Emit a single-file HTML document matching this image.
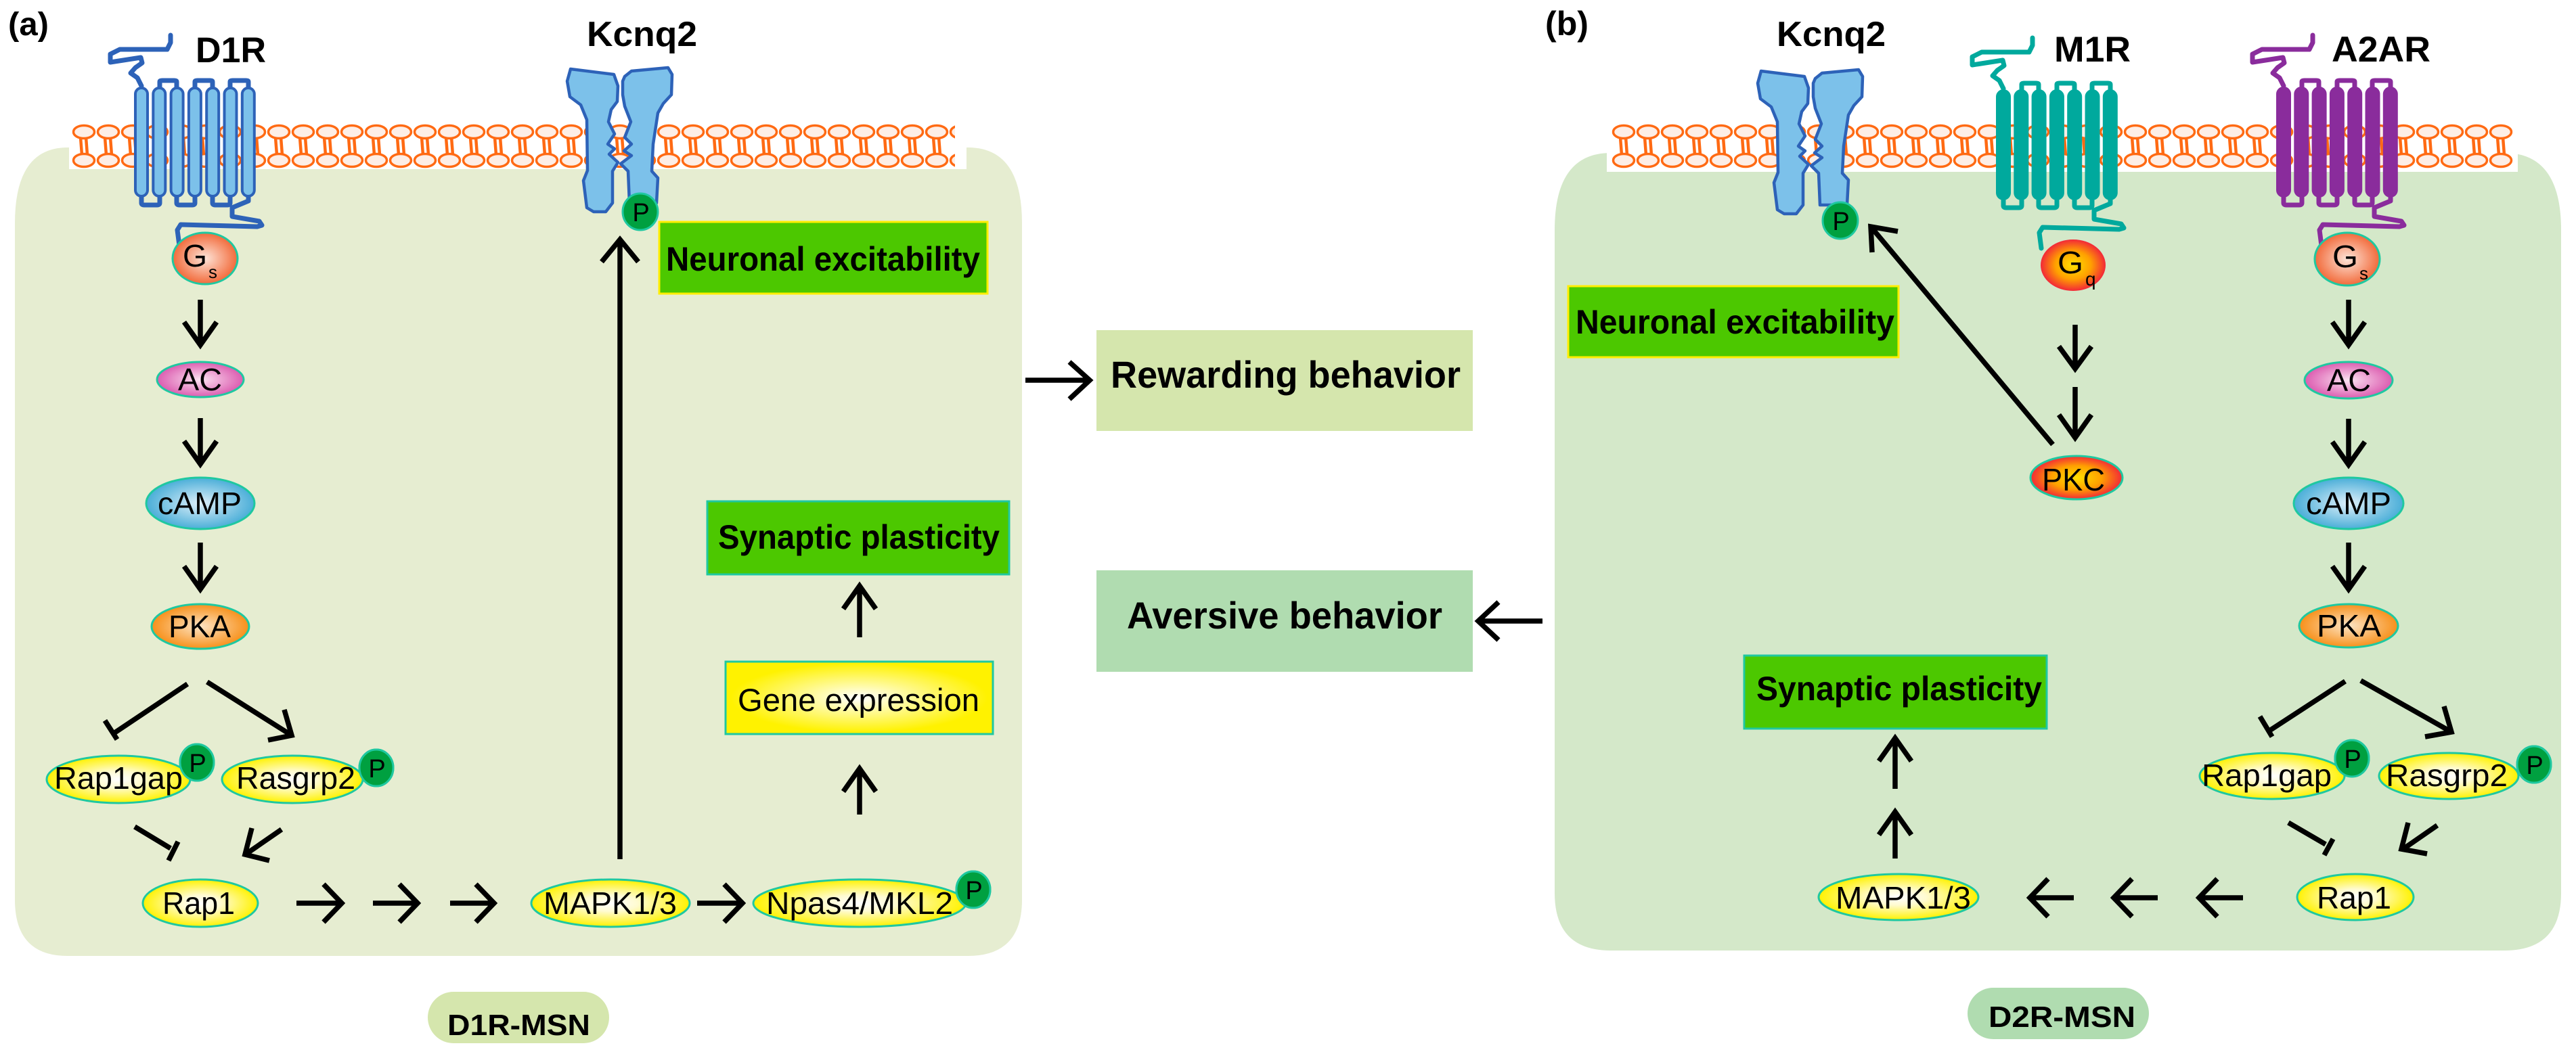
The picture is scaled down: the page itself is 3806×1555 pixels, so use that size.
<!DOCTYPE html>
<html><head><meta charset="utf-8"><style>
html,body{margin:0;padding:0;background:#fff;}
svg{display:block;}
text{font-family:"Liberation Sans",Arial,sans-serif;}
.b{font-weight:bold;}
</style></head><body>
<svg width="3806" height="1555" viewBox="0 0 3806 1555" xmlns="http://www.w3.org/2000/svg">
<defs>
<pattern id="lipL" x="106" y="0" width="36" height="300" patternUnits="userSpaceOnUse">
 <g stroke="#ff6a13" stroke-width="4.5" fill="none">
  <line x1="13" y1="203" x2="15" y2="229"/><line x1="21" y1="203" x2="23" y2="229"/>
 </g>
 <ellipse cx="18" cy="195" rx="15.5" ry="9.5" fill="#fdeee6" stroke="#ff6a13" stroke-width="3.5"/>
 <ellipse cx="18" cy="237" rx="15.5" ry="9.5" fill="#fdeee6" stroke="#ff6a13" stroke-width="3.5"/>
</pattern>
<pattern id="lipR" x="2381" y="0" width="36" height="300" patternUnits="userSpaceOnUse">
 <g stroke="#ff6a13" stroke-width="4.5" fill="none">
  <line x1="13" y1="203" x2="15" y2="229"/><line x1="21" y1="203" x2="23" y2="229"/>
 </g>
 <ellipse cx="18" cy="195" rx="15.5" ry="9.5" fill="#fdeee6" stroke="#ff6a13" stroke-width="3.5"/>
 <ellipse cx="18" cy="237" rx="15.5" ry="9.5" fill="#fdeee6" stroke="#ff6a13" stroke-width="3.5"/>
</pattern>
<radialGradient id="gY"><stop offset="0" stop-color="#ffffff"/><stop offset="0.35" stop-color="#fffbd0"/><stop offset="1" stop-color="#fff200"/></radialGradient>
<radialGradient id="gBox" cx="0.5" cy="0.5" r="0.6"><stop offset="0" stop-color="#ffffff"/><stop offset="0.8" stop-color="#fff200"/></radialGradient>
<radialGradient id="gGs"><stop offset="0" stop-color="#fde4d8"/><stop offset="1" stop-color="#f26a3a"/></radialGradient>
<radialGradient id="gAC"><stop offset="0" stop-color="#fbe4f2"/><stop offset="1" stop-color="#dc5cb0"/></radialGradient>
<radialGradient id="gCA"><stop offset="0" stop-color="#dff0fa"/><stop offset="1" stop-color="#4aaed8"/></radialGradient>
<radialGradient id="gPKA"><stop offset="0" stop-color="#fde4c4"/><stop offset="1" stop-color="#f7901a"/></radialGradient>
<radialGradient id="gPKC"><stop offset="0" stop-color="#ffe000"/><stop offset="0.55" stop-color="#ffa000"/><stop offset="1" stop-color="#f22838"/></radialGradient>
<g id="rec">
 <path d="M0 127 L-6 115 L-16 108 L-9 100 L1 93 L-1 85 L-46 92 L-46 80 L-32 73 L38 73 L43 63 L43 52" fill="none" stroke-width="7" stroke-linecap="round" stroke-linejoin="round"/>
 <path d="M27 132 V121 Q27 119 31 119 H48 Q52 119 52 121 V132 M79 132 V121 Q79 119 83 119 H101 Q105 119 105 121 V132 M131 132 V121 Q131 119 135 119 H154 Q158 119 158 121 V132" fill="none" stroke-width="7"/>
 <path d="M0 288 V300 Q0 303 4 303 H23 Q27 303 27 300 V288 M52 288 V300 Q52 303 56 303 H75 Q79 303 79 300 V288 M105 288 V300 Q105 303 109 303 H127 Q131 303 131 300 V288" fill="none" stroke-width="7"/>
 <path d="M158 288 V297 L134 307 L134 320 L174 327 L178 333 L171 335 L58 332 L53 340 L56 363" fill="none" stroke-width="7" stroke-linecap="round" stroke-linejoin="round"/>
 <rect x="-9" y="130" width="18" height="160" rx="9" stroke-width="4"/>
 <rect x="17.3" y="130" width="18" height="160" rx="9" stroke-width="4"/>
 <rect x="43.6" y="130" width="18" height="160" rx="9" stroke-width="4"/>
 <rect x="69.9" y="130" width="18" height="160" rx="9" stroke-width="4"/>
 <rect x="96.2" y="130" width="18" height="160" rx="9" stroke-width="4"/>
 <rect x="122.5" y="130" width="18" height="160" rx="9" stroke-width="4"/>
 <rect x="148.8" y="130" width="18" height="160" rx="9" stroke-width="4"/>
</g>
<g id="kcnq">
 <path d="M843 102 L907 110 L913 127 L912 150 L903 162 L899 180 L908 198 L898 213 L908 220 L900 228 L913 240 L905 253 L905 300 L895 313 L877 313 L867 307 L862 267 L868 252 L867 177 L858 155 L842 143 L838 120 Z" fill="#7cc1ea" stroke="#2d62b8" stroke-width="4.5" stroke-linejoin="round"/>
 <path d="M923 113 L933 105 L987 100 L993 110 L992 140 L980 153 L972 167 L965 213 L963 253 L972 263 L970 300 L930 300 L928 253 L917 242 L933 230 L922 223 L933 213 L923 203 L932 180 L923 157 L920 140 L920 120 Z" fill="#7cc1ea" stroke="#2d62b8" stroke-width="4.5" stroke-linejoin="round"/>
</g>
</defs>

<!-- cells -->
<path d="M100 218 H1430 Q1510 218 1510 330 V1330 Q1510 1413 1430 1413 H100 Q22 1413 22 1330 V330 Q22 218 100 218 Z" fill="#e6edd1"/>
<path d="M2380 226 H3700 Q3784 226 3784 340 V1320 Q3784 1405 3700 1405 H2380 Q2297 1405 2297 1320 V340 Q2297 226 2380 226 Z" fill="#d4e8c9"/>

<!-- membranes -->
<rect x="102" y="184" width="1326" height="66" fill="#fff"/>
<rect x="106" y="180" width="1305" height="72" fill="url(#lipL)"/>
<rect x="2374" y="184" width="1346" height="70" fill="#fff"/>
<rect x="2381" y="180" width="1332" height="72" fill="url(#lipR)"/>

<!-- receptors -->
<use href="#rec" transform="translate(209,0)" style="fill:#7cc1ea;stroke:#2d62b8"/>
<use href="#rec" transform="translate(2960,4)" style="fill:#00a99d;stroke:#00a99d"/>
<use href="#rec" transform="translate(3374,0)" style="fill:#8a2c9c;stroke:#8a2c9c"/>
<use href="#kcnq"/>
<use href="#kcnq" transform="translate(1759,3)"/>

<!-- labels top -->
<text x="12" y="52" class="b" font-size="48" textLength="60" lengthAdjust="spacingAndGlyphs">(a)</text>
<text x="2283" y="52" class="b" font-size="50" textLength="64" lengthAdjust="spacingAndGlyphs">(b)</text>
<text x="289" y="92" class="b" font-size="53" textLength="104" lengthAdjust="spacingAndGlyphs">D1R</text>
<text x="867" y="68" class="b" font-size="52" textLength="163" lengthAdjust="spacingAndGlyphs">Kcnq2</text>
<text x="2625" y="68" class="b" font-size="52" textLength="161" lengthAdjust="spacingAndGlyphs">Kcnq2</text>
<text x="3035" y="91" class="b" font-size="53" textLength="113" lengthAdjust="spacingAndGlyphs">M1R</text>
<text x="3445" y="91" class="b" font-size="53" textLength="146" lengthAdjust="spacingAndGlyphs">A2AR</text>

<!-- P circles -->
<g fill="#00a040" stroke="#1fc8a0" stroke-width="3">
 <ellipse cx="946" cy="313" rx="26" ry="27"/>
 <ellipse cx="2719" cy="326" rx="26" ry="27"/>
 <ellipse cx="291" cy="1127" rx="25" ry="27"/>
 <ellipse cx="556" cy="1135" rx="25" ry="27"/>
 <ellipse cx="1438" cy="1315" rx="25" ry="27"/>
 <ellipse cx="3475" cy="1121" rx="25" ry="27"/>
 <ellipse cx="3744" cy="1130" rx="25" ry="27"/>
</g>
<g font-size="38" text-anchor="middle">
 <text x="947" y="327">P</text><text x="2720" y="340">P</text>
 <text x="292" y="1141">P</text><text x="557" y="1149">P</text>
 <text x="1439" y="1329">P</text><text x="3476" y="1135">P</text><text x="3745" y="1144">P</text>
</g>

<!-- nodes left -->
<g stroke="#1fc8a0" stroke-width="3">
 <ellipse cx="303" cy="382" rx="48" ry="38" fill="url(#gGs)"/>
 <ellipse cx="296" cy="561" rx="64" ry="26" fill="url(#gAC)"/>
 <ellipse cx="296" cy="744" rx="80" ry="38" fill="url(#gCA)"/>
 <ellipse cx="296" cy="926" rx="72" ry="33" fill="url(#gPKA)"/>
 <ellipse cx="175" cy="1152" rx="106" ry="35" fill="url(#gY)"/>
 <ellipse cx="432" cy="1152" rx="104" ry="35" fill="url(#gY)"/>
 <ellipse cx="296" cy="1335" rx="85" ry="35" fill="url(#gY)"/>
 <ellipse cx="902" cy="1335" rx="117" ry="35" fill="url(#gY)"/>
 <ellipse cx="1270" cy="1335" rx="157" ry="35" fill="url(#gY)"/>
 <!-- right -->
 <ellipse cx="3063" cy="392" rx="48" ry="38" fill="url(#gPKC)" stroke="none"/>
 <ellipse cx="3468" cy="383" rx="48" ry="39" fill="url(#gGs)"/>
 <ellipse cx="3470" cy="562" rx="65" ry="27" fill="url(#gAC)"/>
 <ellipse cx="3470" cy="744" rx="81" ry="38" fill="url(#gCA)"/>
 <ellipse cx="3470" cy="925" rx="73" ry="32" fill="url(#gPKA)"/>
 <ellipse cx="3068" cy="706" rx="68" ry="32" fill="url(#gPKC)"/>
 <ellipse cx="3357" cy="1147" rx="107" ry="34" fill="url(#gY)"/>
 <ellipse cx="3618" cy="1147" rx="103" ry="34" fill="url(#gY)"/>
 <ellipse cx="3480" cy="1326" rx="86" ry="34" fill="url(#gY)"/>
 <ellipse cx="2805" cy="1326" rx="118" ry="34" fill="url(#gY)"/>
</g>
<!-- re-draw P circles over ellipses where overlapping -->
<g fill="#00a040" stroke="#1fc8a0" stroke-width="3">
 <ellipse cx="291" cy="1127" rx="25" ry="27"/><ellipse cx="556" cy="1135" rx="25" ry="27"/>
 <ellipse cx="1438" cy="1315" rx="25" ry="27"/><ellipse cx="3475" cy="1121" rx="25" ry="27"/><ellipse cx="3744" cy="1130" rx="25" ry="27"/>
</g>
<g font-size="38" text-anchor="middle">
 <text x="292" y="1141">P</text><text x="557" y="1149">P</text>
 <text x="1439" y="1329">P</text><text x="3476" y="1135">P</text><text x="3745" y="1144">P</text>
</g>

<!-- node text -->
<g font-size="46">
 <text x="270" y="394" textLength="36" lengthAdjust="spacingAndGlyphs">G</text>
 <text x="308" y="411" font-size="26">s</text>
 <text x="263" y="577" textLength="65" lengthAdjust="spacingAndGlyphs">AC</text>
 <text x="233" y="760" textLength="124" lengthAdjust="spacingAndGlyphs">cAMP</text>
 <text x="249" y="942" textLength="92" lengthAdjust="spacingAndGlyphs">PKA</text>
 <text x="80" y="1166" textLength="190" lengthAdjust="spacingAndGlyphs">Rap1gap</text>
 <text x="349" y="1166" textLength="176" lengthAdjust="spacingAndGlyphs">Rasgrp2</text>
 <text x="240" y="1351" textLength="107" lengthAdjust="spacingAndGlyphs">Rap1</text>
 <text x="803" y="1351" textLength="197" lengthAdjust="spacingAndGlyphs">MAPK1/3</text>
 <text x="1132" y="1351" textLength="276" lengthAdjust="spacingAndGlyphs">Npas4/MKL2</text>
 <text x="3040" y="404" textLength="38" lengthAdjust="spacingAndGlyphs">G</text>
 <text x="3081" y="422" font-size="28">q</text>
 <text x="3446" y="395" textLength="38" lengthAdjust="spacingAndGlyphs">G</text>
 <text x="3486" y="413" font-size="26">s</text>
 <text x="3438" y="578" textLength="65" lengthAdjust="spacingAndGlyphs">AC</text>
 <text x="3407" y="760" textLength="126" lengthAdjust="spacingAndGlyphs">cAMP</text>
 <text x="3423" y="941" textLength="95" lengthAdjust="spacingAndGlyphs">PKA</text>
 <text x="3017" y="725" textLength="93" lengthAdjust="spacingAndGlyphs">PKC</text>
 <text x="3253" y="1162" textLength="192" lengthAdjust="spacingAndGlyphs">Rap1gap</text>
 <text x="3525" y="1162" textLength="180" lengthAdjust="spacingAndGlyphs">Rasgrp2</text>
 <text x="3423" y="1343" textLength="110" lengthAdjust="spacingAndGlyphs">Rap1</text>
 <text x="2712" y="1343" textLength="200" lengthAdjust="spacingAndGlyphs">MAPK1/3</text>
</g>

<!-- boxes -->
<rect x="974" y="328" width="485" height="106" fill="#4cc800" stroke="#ffee00" stroke-width="3"/>
<text x="984" y="400" class="b" font-size="50" textLength="464" lengthAdjust="spacingAndGlyphs">Neuronal excitability</text>
<rect x="1045" y="741" width="446" height="108" fill="#4cc800" stroke="#1fc8a0" stroke-width="3"/>
<text x="1061" y="811" class="b" font-size="50" textLength="416" lengthAdjust="spacingAndGlyphs">Synaptic plasticity</text>
<rect x="1072" y="978" width="395" height="107" fill="url(#gBox)" stroke="#1fc8a0" stroke-width="3"/>
<text x="1090" y="1051" font-size="47" textLength="357" lengthAdjust="spacingAndGlyphs">Gene expression</text>
<rect x="2317" y="423" width="488" height="105" fill="#4cc800" stroke="#ffee00" stroke-width="3"/>
<text x="2328" y="493" class="b" font-size="50" textLength="471" lengthAdjust="spacingAndGlyphs">Neuronal excitability</text>
<rect x="2577" y="969" width="447" height="108" fill="#4cc800" stroke="#1fc8a0" stroke-width="3"/>
<text x="2595" y="1035" class="b" font-size="50" textLength="422" lengthAdjust="spacingAndGlyphs">Synaptic plasticity</text>

<rect x="1620" y="488" width="556" height="149" fill="#d5e6ad"/>
<text x="1641" y="573" class="b" font-size="56" textLength="517" lengthAdjust="spacingAndGlyphs">Rewarding behavior</text>
<rect x="1620" y="843" width="556" height="150" fill="#b0dcb0"/>
<text x="1665" y="929" class="b" font-size="56" textLength="466" lengthAdjust="spacingAndGlyphs">Aversive behavior</text>

<rect x="632" y="1466" width="268" height="76" rx="38" fill="#d5e6ad"/>
<text x="661" y="1530" class="b" font-size="44" textLength="211" lengthAdjust="spacingAndGlyphs">D1R-MSN</text>
<rect x="2907" y="1460" width="268" height="76" rx="38" fill="#b0dcb0"/>
<text x="2938" y="1518" class="b" font-size="44" textLength="217" lengthAdjust="spacingAndGlyphs">D2R-MSN</text>

<!-- arrows -->
<g stroke="#000" stroke-width="7.5" fill="none" stroke-linejoin="miter" stroke-linecap="butt">
 <!-- left column -->
 <path d="M296 443 V510 M272 476 L296 510 L320 476"/>
 <path d="M296 618 V686 M272 652 L296 686 L320 652"/>
 <path d="M296 802 V871 M272 837 L296 871 L320 837"/>
 <path d="M277 1011 L168 1084 M155 1065 L173 1093"/>
 <path d="M306 1008 L431 1087 M420 1049 L431 1087 L396 1094"/>
 <path d="M199 1222 L252 1254 M263 1244 L249 1272"/>
 <path d="M416 1226 L364 1262 M372 1224 L362 1263 L398 1272"/>
 <path d="M438 1335 H505 M478 1307 L505 1335 L478 1363"/>
 <path d="M551 1335 H617 M590 1307 L617 1335 L590 1363"/>
 <path d="M665 1335 H730 M703 1307 L730 1335 L703 1363"/>
 <path d="M1030 1335 H1097 M1070 1307 L1097 1335 L1070 1363"/>
 <path d="M916 1270 V354 M889 387 L916 354 L943 387"/>
 <path d="M1270 942 V866 M1246 900 L1270 866 L1294 900"/>
 <path d="M1270 1204 V1136 M1246 1170 L1270 1136 L1294 1170"/>
 <!-- middle -->
 <path d="M1515 562 H1610 M1580 535 L1610 562 L1580 590"/>
 <path d="M2279 918 H2184 M2214 890 L2184 918 L2214 946"/>
 <!-- right -->
 <path d="M3066 480 V545 M3042 512 L3066 545 L3090 512"/>
 <path d="M3066 572 V647 M3042 613 L3066 647 L3090 613"/>
 <path d="M3033 657 L2764 335 M2766 373 L2764 335 L2804 342"/>
 <path d="M3470 443 V510 M3446 476 L3470 510 L3494 476"/>
 <path d="M3470 619 V687 M3446 653 L3470 687 L3494 653"/>
 <path d="M3470 802 V871 M3446 837 L3470 871 L3494 837"/>
 <path d="M3465 1007 L3350 1082 M3339 1059 L3357 1089"/>
 <path d="M3488 1006 L3622 1082 M3611 1044 L3622 1082 L3583 1089"/>
 <path d="M3381 1216 L3436 1248 M3447 1240 L3434 1264"/>
 <path d="M3601 1220 L3549 1256 M3558 1216 L3548 1255 L3586 1262"/>
 <path d="M3314 1327 H3249 M3276 1299 L3249 1327 L3276 1355"/>
 <path d="M3188 1327 H3123 M3150 1299 L3123 1327 L3150 1355"/>
 <path d="M3064 1327 H2999 M3026 1299 L2999 1327 L3026 1355"/>
 <path d="M2800 1269 V1200 M2776 1234 L2800 1200 L2824 1234"/>
 <path d="M2800 1166 V1091 M2776 1125 L2800 1091 L2824 1125"/>
</g>
</svg>
</body></html>
